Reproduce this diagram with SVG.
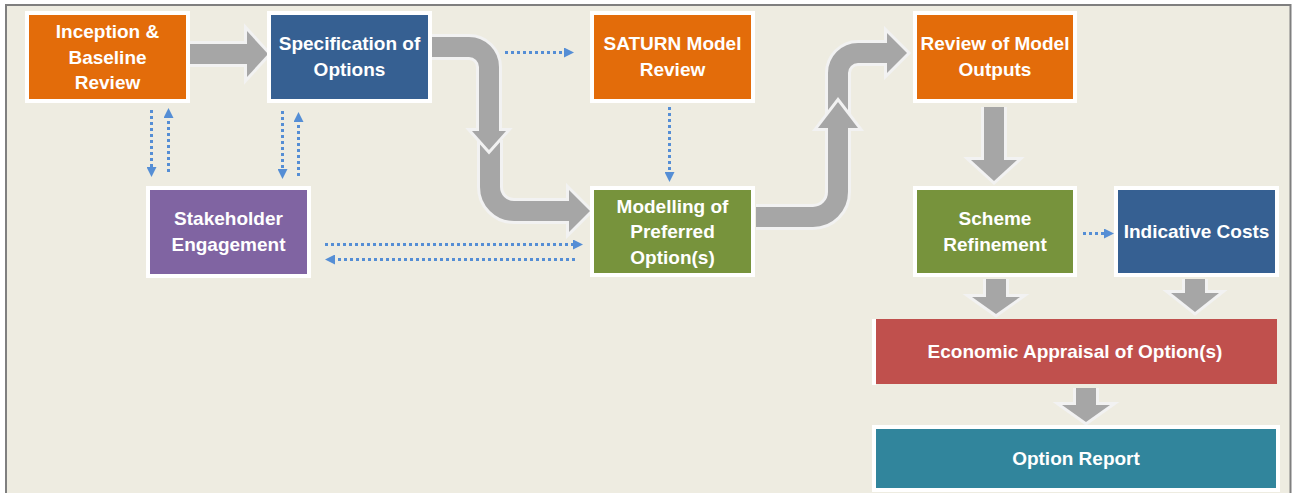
<svg xmlns="http://www.w3.org/2000/svg" width="1293" height="493" viewBox="0 0 1293 493">
<style>
.box{stroke:#FFFFFF;stroke-width:4}
.t{font-family:"Liberation Sans",Arial,sans-serif;font-weight:bold;font-size:19px;fill:#FFFFFF;text-anchor:middle}
.orange{fill:#E36C0A}
.blue{fill:#366092}
.purple{fill:#8064A2}
.green{fill:#77933C}
.red{fill:#C0504D}
.teal{fill:#31859C}
.so{fill:none;stroke:#F2F2F2;stroke-width:26}
.sg{fill:none;stroke:#A6A6A6;stroke-width:20}
.ho{fill:#F2F2F2;stroke:#F2F2F2;stroke-width:6;stroke-linejoin:miter}
.hg{fill:#A6A6A6}
.dot{fill:none;stroke:#558ED5;stroke-width:3;stroke-dasharray:3 3}
</style>
<defs>
<marker id="ah" viewBox="0 0 10 10" refX="2" refY="5" markerWidth="10" markerHeight="10" markerUnits="userSpaceOnUse" orient="auto">
<path d="M0,0 L10,5 L0,10 z" fill="#558ED5"/>
</marker>
</defs>
<rect x="0" y="0" width="1293" height="493" fill="#FFFFFF"/>
<rect x="6" y="5" width="1284.5" height="500" fill="#EEECE1" stroke="#7F7F7F" stroke-width="2"/>

<g id="connectors">
  <!-- Inception -> Specification -->
  <g id="c1">
    <path class="so" d="M190,54 H249"/>
    <polygon class="ho" points="247,31 268,54 247,77"/>
    <path class="sg" d="M190,54 H250"/>
    <polygon class="hg" points="247,31 268,54 247,77"/>
  </g>
  <!-- lower curve into Modelling (drawn first) -->
  <g id="c2b">
    <path class="so" d="M490,140 V187 A24,24 0 0 0 514,211 H571"/>
    <polygon class="ho" points="569,190 590,211 569,232"/>
    <path class="sg" d="M490,140 V187 A24,24 0 0 0 514,211 H572"/>
    <polygon class="hg" points="569,190 590,211 569,232"/>
  </g>
  <!-- Specification curve down -->
  <g id="c2a">
    <path class="so" d="M432,47 H469 A20,20 0 0 1 489,67 V133"/>
    <polygon class="ho" points="472,131 489,150 506,131"/>
    <path class="sg" d="M432,47 H469 A20,20 0 0 1 489,67 V134"/>
    <polygon class="hg" points="472,131 489,150 506,131"/>
  </g>
  <!-- upper curve into Review (drawn first) -->
  <g id="c3b">
    <path class="so" d="M838,115 V73 A20,20 0 0 1 858,53 H889"/>
    <polygon class="ho" points="887,33 907,53 887,73"/>
    <path class="sg" d="M838,115 V73 A20,20 0 0 1 858,53 H890"/>
    <polygon class="hg" points="887,33 907,53 887,73"/>
  </g>
  <!-- Modelling curve up -->
  <g id="c3a">
    <path class="so" d="M756,217 H813 A25,25 0 0 0 838,192 V126"/>
    <polygon class="ho" points="818,128 838,102 858,128"/>
    <path class="sg" d="M756,217 H813 A25,25 0 0 0 838,192 V125"/>
    <polygon class="hg" points="818,128 838,102 858,128"/>
  </g>
  <!-- Review -> Scheme -->
  <g id="c4">
    <path class="so" d="M994,107 V162"/>
    <polygon class="ho" points="971,160 994,181 1017,160"/>
    <path class="sg" d="M994,107 V163"/>
    <polygon class="hg" points="971,160 994,181 1017,160"/>
  </g>
  <!-- Scheme -> Economic -->
  <g id="c5">
    <path class="so" d="M996,279 V299"/>
    <polygon class="ho" points="972,297 996,314 1020,297"/>
    <path class="sg" d="M996,279 V300"/>
    <polygon class="hg" points="972,297 996,314 1020,297"/>
  </g>
  <!-- Indicative -> Economic -->
  <g id="c6">
    <path class="so" d="M1195,279 V295"/>
    <polygon class="ho" points="1171,293 1195,312 1219,293"/>
    <path class="sg" d="M1195,279 V296"/>
    <polygon class="hg" points="1171,293 1195,312 1219,293"/>
  </g>
  <!-- Economic -> Option Report -->
  <g id="c7">
    <path class="so" d="M1086,388 V407"/>
    <polygon class="ho" points="1062,405 1086,422 1110,405"/>
    <path class="sg" d="M1086,388 V408"/>
    <polygon class="hg" points="1062,405 1086,422 1110,405"/>
  </g>
  <!-- dotted connectors -->
  <path class="dot" d="M151.5,110 V169" marker-end="url(#ah)"/>
  <path class="dot" d="M168.5,172 V116" marker-end="url(#ah)"/>
  <path class="dot" d="M282.5,111 V171" marker-end="url(#ah)"/>
  <path class="dot" d="M298.5,176 V120" marker-end="url(#ah)"/>
  <path class="dot" d="M505,52.5 H566" marker-end="url(#ah)"/>
  <path class="dot" d="M669.5,107 V174" marker-end="url(#ah)"/>
  <path class="dot" d="M325,244.5 H575" marker-end="url(#ah)"/>
  <path class="dot" d="M575,259.5 H333" marker-end="url(#ah)"/>
  <path class="dot" d="M1083,233.5 H1106" marker-end="url(#ah)"/>
</g>

<g id="inception">
  <rect class="box orange" x="27" y="13" width="161" height="88"/>
  <text class="t" x="107.5" y="38">Inception &amp;</text>
  <text class="t" x="107.5" y="63.5">Baseline</text>
  <text class="t" x="107.5" y="89">Review</text>
</g>
<g id="specification">
  <rect class="box blue" x="269" y="13" width="161" height="88"/>
  <text class="t" x="349.5" y="50">Specification of</text>
  <text class="t" x="349.5" y="76">Options</text>
</g>
<g id="saturn">
  <rect class="box orange" x="592" y="13" width="161" height="88"/>
  <text class="t" x="672.5" y="50">SATURN Model</text>
  <text class="t" x="672.5" y="76">Review</text>
</g>
<g id="review">
  <rect class="box orange" x="915" y="13" width="160" height="88"/>
  <text class="t" x="995" y="50">Review of Model</text>
  <text class="t" x="995" y="76">Outputs</text>
</g>
<g id="stakeholder">
  <rect class="box purple" x="148" y="188" width="161" height="88"/>
  <text class="t" x="228.5" y="225">Stakeholder</text>
  <text class="t" x="228.5" y="251">Engagement</text>
</g>
<g id="modelling">
  <rect class="box green" x="592" y="188" width="161" height="87"/>
  <text class="t" x="672.5" y="213">Modelling of</text>
  <text class="t" x="672.5" y="238">Preferred</text>
  <text class="t" x="672.5" y="263.5">Option(s)</text>
</g>
<g id="scheme">
  <rect class="box green" x="915" y="188" width="160" height="87"/>
  <text class="t" x="995" y="225">Scheme</text>
  <text class="t" x="995" y="251">Refinement</text>
</g>
<g id="indicative">
  <rect class="box blue" x="1116" y="188" width="161" height="87"/>
  <text class="t" x="1196.5" y="238">Indicative Costs</text>
</g>
<g id="economic">
  <rect class="red" x="876" y="319" width="401" height="65"/>
  <rect x="872" y="319" width="4" height="66" fill="#FFFFFF"/>
  <text class="t" x="1075" y="358">Economic Appraisal of Option(s)</text>
</g>
<g id="option-report">
  <rect class="box teal" x="874" y="427" width="404" height="63"/>
  <text class="t" x="1076" y="465">Option Report</text>
</g>
</svg>
